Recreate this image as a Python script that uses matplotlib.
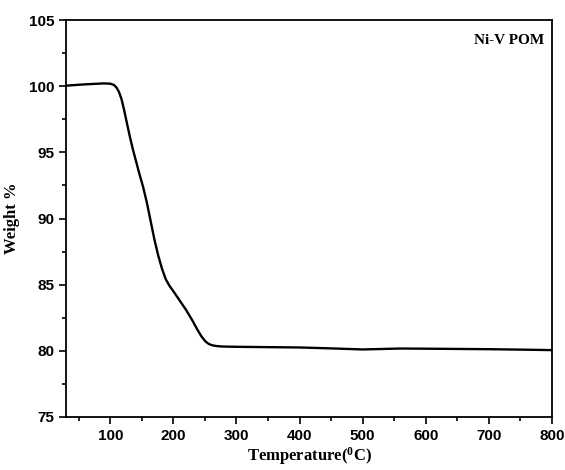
import matplotlib
matplotlib.use('Agg')
import matplotlib.pyplot as plt
import numpy as np
from matplotlib.ticker import MultipleLocator

# TGA curve
temp = [30, 60, 90, 100, 106, 110, 114, 118, 122, 126, 131, 136, 141, 146,
        152, 158, 164, 170, 176, 182, 188, 194, 200, 210, 220, 230, 238,
        245, 251, 256, 261, 268, 278, 300, 400, 450, 500, 560, 620, 700,
        760, 800]
weight = [100.05, 100.15, 100.22, 100.2, 100.1, 99.9, 99.55, 99.0, 98.2,
          97.3, 96.2, 95.2, 94.3, 93.4, 92.4, 91.2, 89.8, 88.4, 87.2, 86.2,
          85.4, 84.9, 84.5, 83.8, 83.1, 82.3, 81.6, 81.05, 80.7, 80.52,
          80.42, 80.36, 80.32, 80.3, 80.25, 80.18, 80.1, 80.17, 80.15,
          80.12, 80.08, 80.05]

xticks = [100, 200, 300, 400, 500, 600, 700, 800]
yticks = [75, 80, 85, 90, 95, 100, 105]

fig = plt.figure(figsize=(5.65, 4.7), dpi=100)
ax = fig.add_axes([0.117, 0.113, 0.86, 0.844])

ax.plot(temp, weight, color='black', lw=1.7, solid_joinstyle='round')

ax.set_xlim(30, 800)
ax.set_ylim(75, 105)
ax.set_xticks(xticks)
ax.set_yticks(yticks)
ax.xaxis.set_minor_locator(MultipleLocator(50))
ax.yaxis.set_minor_locator(MultipleLocator(2.5))
ax.tick_params(which='both', direction='out', width=1.2, top=False, right=False)
ax.tick_params(which='major', length=5)
ax.tick_params(which='minor', length=3)
for lab in ax.get_xticklabels() + ax.get_yticklabels():
    lab.set_fontfamily('Liberation Sans')
    lab.set_fontweight('bold')
    lab.set_fontsize(11)
for sp in ax.spines.values():
    sp.set_linewidth(1.3)

ax.set_xlabel('Temperature($\\mathregular{^0}$C)', fontfamily='Liberation Serif',
              fontweight='bold', fontsize=12, labelpad=2)
ax.set_ylabel('Weight %', fontfamily='Liberation Serif',
              fontweight='bold', fontsize=12, labelpad=6)

ax.text(0.985, 0.965, 'Ni-V POM', transform=ax.transAxes, ha='right', va='top',
        fontfamily='Liberation Serif', fontweight='bold', fontsize=11)

fig.savefig('out.png', dpi=100)
